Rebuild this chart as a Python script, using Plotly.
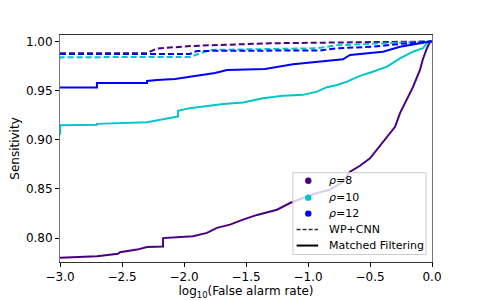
import plotly.graph_objects as go

# Matched filtering curves (solid)
mf8_x = [-3.0, -2.895, -2.702, -2.532, -2.516, -2.379, -2.298, -2.169, -2.169, -1.927, -1.815, -1.734,
         -1.629, -1.524, -1.411, -1.25, -1.145, -1.04, -0.927, -0.823, -0.718, -0.661, -0.581, -0.5,
         -0.403, -0.298, -0.258, -0.202, -0.153, -0.097, -0.073, -0.040, -0.016, 0.0]
mf8_y = [0.7799, 0.7805, 0.7815, 0.784, 0.7856, 0.7883, 0.7909, 0.7914, 0.8, 0.8018, 0.8053, 0.8104,
         0.8137, 0.8188, 0.8236, 0.8289, 0.8357, 0.8408, 0.8459, 0.8492, 0.8574, 0.8675, 0.8736, 0.8812,
         0.8964, 0.9132, 0.9271, 0.9406, 0.9538, 0.9711, 0.9822, 0.9934, 0.9995, 1.0]

mf10_x = [-3.0, -2.998, -2.702, -2.702, -2.298, -2.153, -2.048, -2.048, -1.952, -1.685, -1.524, -1.363,
          -1.202, -1.040, -0.927, -0.847, -0.766, -0.685, -0.581, -0.484, -0.363, -0.258, -0.153, -0.073,
          -0.032, 0.0]
mf10_y = [0.9051, 0.9147, 0.9152, 0.9162, 0.9178, 0.921, 0.9237, 0.9294, 0.9322, 0.9365, 0.9379, 0.9423,
          0.9447, 0.9457, 0.949, 0.9535, 0.9558, 0.9592, 0.965, 0.969, 0.9744, 0.9829, 0.9896, 0.9931,
          0.9998, 1.0]

mf12_x = [-3.0, -2.702, -2.702, -2.298, -2.298, -2.218, -2.073, -1.952, -1.831, -1.75, -1.653, -1.347,
          -1.121, -0.879, -0.718, -0.661, -0.524, -0.395, -0.258, -0.097, -0.016, 0.0]
mf12_y = [0.9533, 0.9533, 0.9579, 0.9579, 0.9599, 0.9609, 0.9619, 0.964, 0.966, 0.968, 0.971, 0.972,
          0.9768, 0.9795, 0.9819, 0.9863, 0.988, 0.9896, 0.9947, 0.9985, 1.0, 1.0]

# WP+CNN curves (dashed)
cnn8_x = [-3.0, -2.298, -2.274, -2.218, -1.927, -1.306, -0.395, 0.0]
cnn8_y = [0.988, 0.988, 0.9896, 0.9929, 0.9955, 0.9982, 0.9995, 1.0]

cnn10_x = [-3.0, -2.996, -1.952, -1.871, -1.79, -0.927, -0.766, -0.419, -0.202, 0.0]
cnn10_y = [0.9822, 0.984, 0.9843, 0.988, 0.9914, 0.9931, 0.9962, 0.998, 0.9988, 1.0]

cnn12_x = [-3.0, -1.952, -1.895, -0.903, -0.766, -0.476, -0.258, 0.0]
cnn12_y = [0.9873, 0.9873, 0.9904, 0.9909, 0.9931, 0.9947, 0.9975, 1.0]

legend_labels = ["<i>ρ</i>=8", "<i>ρ</i>=10", "<i>ρ</i>=12", "WP+CNN", "Matched Filtering"]

C8 = "#4B0082"
C10 = "#00C5CD"
C12 = "#0000FF"

fig = go.Figure()
for xs, ys, c in [(cnn8_x, cnn8_y, C8), (cnn10_x, cnn10_y, C10), (cnn12_x, cnn12_y, C12)]:
    fig.add_trace(go.Scatter(x=xs, y=ys, mode="lines", line=dict(color=c, width=2, dash="6px,3px"),
                             showlegend=False, hoverinfo="skip"))
for xs, ys, c in [(mf8_x, mf8_y, C8), (mf10_x, mf10_y, C10), (mf12_x, mf12_y, C12)]:
    fig.add_trace(go.Scatter(x=xs, y=ys, mode="lines", line=dict(color=c, width=2),
                             showlegend=False, hoverinfo="skip"))

# Hand-built legend (matplotlib-style compact rows), in paper coordinates
shapes = [dict(type="rect", xref="paper", yref="paper", x0=0.626, x1=0.984, y0=0.033, y1=0.3934,
               fillcolor="rgba(255,255,255,0.8)", line=dict(color="#cccccc", width=1), layer="above")]
row_y = [0.358, 0.2835, 0.2132, 0.1429, 0.0725]
mx, rx, ry = 0.6675, 3.2 / 372, 3.2 / 227.5
for yy, c in zip(row_y[:3], [C8, C10, C12]):
    shapes.append(dict(type="circle", xref="paper", yref="paper", x0=mx - rx, x1=mx + rx,
                       y0=yy - ry, y1=yy + ry, fillcolor=c, line=dict(color=c, width=0), layer="above"))
shapes.append(dict(type="line", xref="paper", yref="paper", x0=0.636, x1=0.694, y0=row_y[3], y1=row_y[3],
                   line=dict(color="#333333", width=1.5, dash="4px,2px"), layer="above"))
shapes.append(dict(type="line", xref="paper", yref="paper", x0=0.636, x1=0.694, y0=row_y[4], y1=row_y[4],
                   line=dict(color="black", width=2), layer="above"))
annotations = [dict(text=t, xref="paper", yref="paper", x=0.719, y=yy, xanchor="left", yanchor="middle",
                    showarrow=False, font=dict(size=11, family="DejaVu Sans", color="black"))
               for t, yy in zip(legend_labels, row_y)]

fig.update_layout(
    width=472, height=292,
    margin=dict(l=52, r=48, t=27, b=37.5, autoexpand=False),
    paper_bgcolor="white", plot_bgcolor="white",
    font=dict(family="DejaVu Sans", size=12, color="black"),
    showlegend=False,
    shapes=shapes, annotations=annotations,
    xaxis=dict(range=[-3.0, 0.0], tickmode="array",
               tickvals=[-3.0, -2.5, -2.0, -1.5, -1.0, -0.5, 0.0], tickformat=".1f",
               ticks="outside", ticklen=4, tickcolor="black",
               showline=True, linecolor="#333333", linewidth=1, mirror=True,
               showgrid=False, zeroline=False,
               title=dict(text="log<sub>10</sub>(False alarm rate)", standoff=4, font=dict(size=12))),
    yaxis=dict(range=[0.7757, 1.0066], tickmode="array",
               tickvals=[0.80, 0.85, 0.90, 0.95, 1.00], tickformat=".2f",
               ticks="outside", ticklen=4, tickcolor="black",
               showline=True, linecolor="#777777", linewidth=1, mirror=True,
               showgrid=False, zeroline=False,
               title=dict(text="Sensitivity", standoff=6, font=dict(size=12))),
)

fig.write_html("out.html")
